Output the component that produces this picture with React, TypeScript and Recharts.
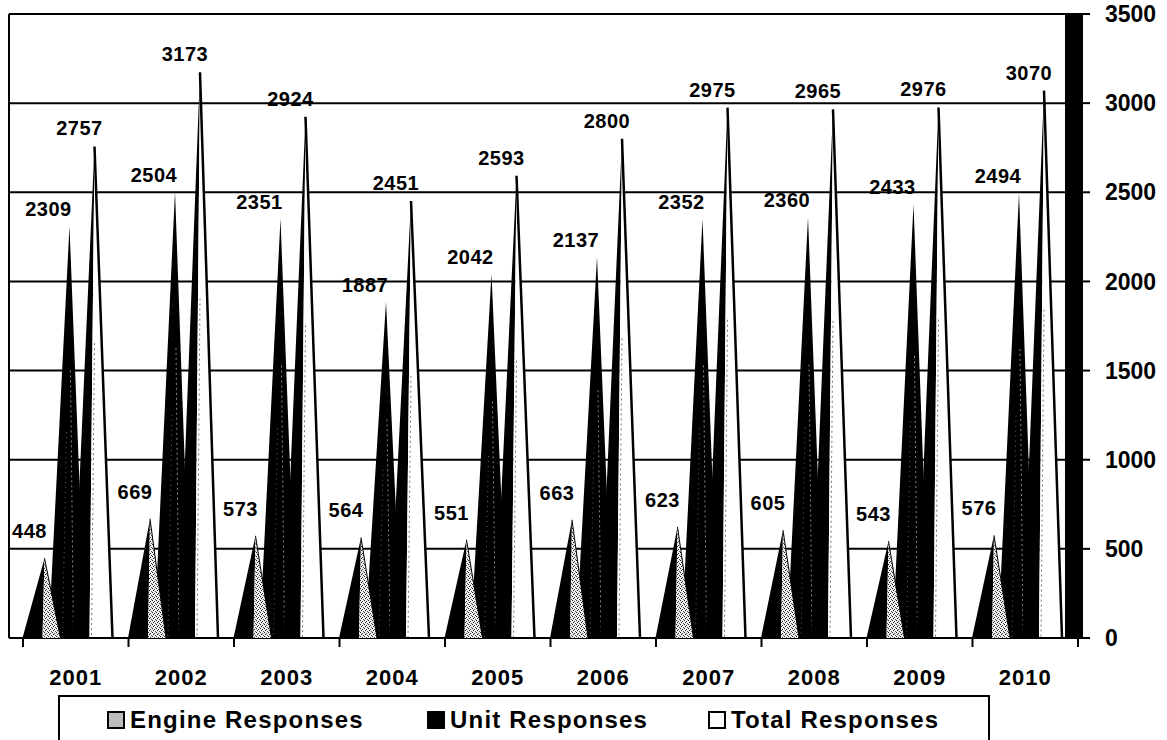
import React from 'react';
import { BarChart, Bar, XAxis, YAxis, CartesianGrid, LabelList } from 'recharts';

const years = ['2001', '2002', '2003', '2004', '2005', '2006', '2007', '2008', '2009', '2010'];
const engineResponses = [448, 669, 573, 564, 551, 663, 623, 605, 543, 576];
const unitResponses = [2309, 2504, 2351, 1887, 2042, 2137, 2352, 2360, 2433, 2494];
const totalResponses = [2757, 3173, 2924, 2451, 2593, 2800, 2975, 2965, 2976, 3070];
const yTicks = [0, 500, 1000, 1500, 2000, 2500, 3000, 3500];
const seriesNames = ['Engine Responses', 'Unit Responses', 'Total Responses'];

const data = years.map((year, i) => ({
    year,
    engine: engineResponses[i],
    unit: unitResponses[i],
    total: totalResponses[i],
}));

const FONT = '"Liberation Sans", Arial, sans-serif';
const HALF_BAND = 52.75;
// peaks sit a little left of the bar slot centre (3d perspective in the original)
const PEAK_SHIFT = -6;

function EngineShape(props: any) {
    const { x, y, width, height } = props;
    if (height == null || isNaN(height)) return null;
    const px = x + width / 2 + PEAK_SHIFT;
    const base = y + height;
    return (
        <g>
            <polygon points={`${px - 22},${base} ${px},${y} ${px - 2},${base}`} fill="#000" />
            <polygon points={`${px - 2},${base} ${px},${y} ${px + 16},${base}`} fill="url(#stipple)" />
            <line x1={px} y1={y} x2={px + 16} y2={base} stroke="#000" strokeWidth={1} />
        </g>
    );
}

function UnitShape(props: any) {
    const { x, y, width, height } = props;
    if (height == null || isNaN(height)) return null;
    const px = x + width / 2 + PEAK_SHIFT;
    const base = y + height;
    return (
        <g>
            <polygon points={`${px - 21},${base} ${px},${y} ${px + 16},${base}`} fill="#000" />
            <line x1={px + 1} y1={y + height * 0.35} x2={px + 4} y2={base} stroke="#888" strokeWidth={1} strokeDasharray="2 3" />
            <line x1={px - 3} y1={y + height * 0.5} x2={px - 7} y2={base} stroke="#666" strokeWidth={1} strokeDasharray="1 4" />
        </g>
    );
}

function TotalShape(props: any) {
    const { x, y, width, height } = props;
    if (height == null || isNaN(height)) return null;
    const px = x + width / 2 + PEAK_SHIFT;
    const base = y + height;
    return (
        <g>
            <polygon points={`${px - 22},${base} ${px},${y} ${px - 5},${base}`} fill="#000" />
            <polygon points={`${px - 5},${base} ${px},${y} ${px + 18},${base}`} fill="#fff" />
            <line x1={px} y1={y} x2={px + 18} y2={base} stroke="#000" strokeWidth={2.5} />
            <line x1={px} y1={y + height * 0.4} x2={px - 3} y2={base} stroke="#777" strokeWidth={1} strokeDasharray="2 3" />
        </g>
    );
}

const EmptyShape = () => <g />;

const makeLabel = (dx: number, dy: number) => (props: any) => {
    const { x, y, width, value } = props;
    const px = Number(x) + Number(width) / 2 + PEAK_SHIFT;
    return (
        <text
            x={px + dx}
            y={Number(y) + dy}
            textAnchor="middle"
            dominantBaseline="central"
            fontFamily={FONT}
            fontWeight="bold"
            fontSize={20}
            letterSpacing={0.5}
            fill="#000"
        >
            {value}
        </text>
    );
};

function YearTick(props: any) {
    const { x, y, payload, index } = props;
    return (
        <g>
            <line x1={x - HALF_BAND} y1={y} x2={x - HALF_BAND} y2={y + 9} stroke="#000" strokeWidth={2} />
            {index === years.length - 1 && (
                <line x1={x + HALF_BAND} y1={y} x2={x + HALF_BAND} y2={y + 9} stroke="#000" strokeWidth={2} />
            )}
            <text
                x={x}
                y={y + 47}
                textAnchor="middle"
                fontFamily={FONT}
                fontWeight="bold"
                fontSize={22}
                letterSpacing={1}
                fill="#000"
            >
                {payload.value}
            </text>
        </g>
    );
}

const legendIcons = [
    { left: 107, fill: '#bbb' },
    { left: 427, fill: '#000' },
    { left: 708, fill: '#fff' },
];

const CHART_W = 1167;
const CHART_H = 740;

export default function App() {
    return (
        <div style={{ position: 'absolute', left: 0, top: 0, width: CHART_W, height: CHART_H, background: '#fff', overflow: 'hidden' }}>
            <svg width={0} height={0} style={{ position: 'absolute' }}>
                <defs>
                    <pattern id="stipple" width={4} height={4} patternUnits="userSpaceOnUse">
                        <rect width={4} height={4} fill="#ececec" />
                        <rect x={0} y={0} width={1} height={1} fill="#222" />
                        <rect x={2} y={1} width={1} height={1} fill="#444" />
                        <rect x={1} y={2} width={1} height={1} fill="#222" />
                        <rect x={3} y={3} width={1} height={1} fill="#555" />
                    </pattern>
                </defs>
            </svg>

            {/* main chart: grid, axes, unit and total pyramids */}
            <BarChart
                width={CHART_W}
                height={CHART_H}
                data={data}
                margin={{ top: 14, right: 0, bottom: 62, left: 9 }}
                barGap={0}
                barSize={25}
            >
                <CartesianGrid vertical={false} stroke="#000" strokeWidth={2} strokeOpacity={1} />
                <XAxis
                    dataKey="year"
                    interval={0}
                    height={40}
                    tickLine={false}
                    tickSize={0}
                    tickMargin={0}
                    axisLine={{ stroke: '#000', strokeWidth: 2 }}
                    padding={{ left: 14, right: 4 }}
                    tick={<YearTick />}
                />
                <YAxis
                    orientation="right"
                    width={85}
                    domain={[0, 3500]}
                    ticks={yTicks}
                    interval={0}
                    tickSize={8}
                    tickMargin={15}
                    axisLine={{ stroke: '#000', strokeWidth: 2 }}
                    tickLine={{ stroke: '#000', strokeWidth: 2 }}
                    tick={{ fill: '#000', fontSize: 23, fontWeight: 'bold', fontFamily: FONT }}
                />
                <Bar dataKey="engine" name={seriesNames[0]} shape={<EmptyShape />} isAnimationActive={false} />
                <Bar dataKey="unit" name={seriesNames[1]} shape={<UnitShape />} isAnimationActive={false}>
                    <LabelList dataKey="unit" content={makeLabel(-21, -17)} />
                </Bar>
                <Bar dataKey="total" name={seriesNames[2]} shape={<TotalShape />} isAnimationActive={false}>
                    <LabelList dataKey="total" content={makeLabel(-15, -18)} />
                </Bar>
            </BarChart>

            {/* overlay chart with the same layout: engine pyramids sit in front */}
            <div style={{ position: 'absolute', left: 0, top: 0 }}>
                <BarChart
                    width={CHART_W}
                    height={CHART_H}
                    data={data}
                    margin={{ top: 14, right: 85, bottom: 102, left: 9 }}
                    barGap={0}
                    barSize={25}
                >
                    <XAxis dataKey="year" hide padding={{ left: 14, right: 4 }} />
                    <YAxis hide domain={[0, 3500]} ticks={yTicks} />
                    <Bar dataKey="engine" name={seriesNames[0]} shape={<EngineShape />} isAnimationActive={false}>
                        <LabelList dataKey="engine" content={makeLabel(-15, -27)} />
                    </Bar>
                    <Bar dataKey="unit" shape={<EmptyShape />} isAnimationActive={false} />
                    <Bar dataKey="total" shape={<EmptyShape />} isAnimationActive={false} />
                </BarChart>
            </div>

            {/* left border of the plot and the dark 3d side wall */}
            <div style={{ position: 'absolute', left: 8, top: 14, width: 2, height: 624, background: '#000' }} />
            <div style={{ position: 'absolute', left: 1065, top: 14, width: 17, height: 625, background: '#000' }} />

            {/* legend */}
            <div
                style={{
                    position: 'absolute',
                    left: 58,
                    top: 695,
                    width: 928,
                    height: 60,
                    border: '2px solid #000',
                    fontFamily: FONT,
                    fontWeight: 'bold',
                    fontSize: 24,
                    letterSpacing: 1.2,
                    color: '#000',
                }}
            >
                {seriesNames.map((name, i) => (
                    <div
                        key={name}
                        style={{
                            position: 'absolute',
                            left: legendIcons[i].left - 60,
                            top: 9,
                            display: 'flex',
                            alignItems: 'center',
                            whiteSpace: 'nowrap',
                        }}
                    >
                        <span
                            style={{
                                display: 'inline-block',
                                width: 14,
                                height: 14,
                                border: '2px solid #000',
                                background: legendIcons[i].fill,
                                marginRight: 5,
                            }}
                        />
                        <span>{name}</span>
                    </div>
                ))}
            </div>
        </div>
    );
}
